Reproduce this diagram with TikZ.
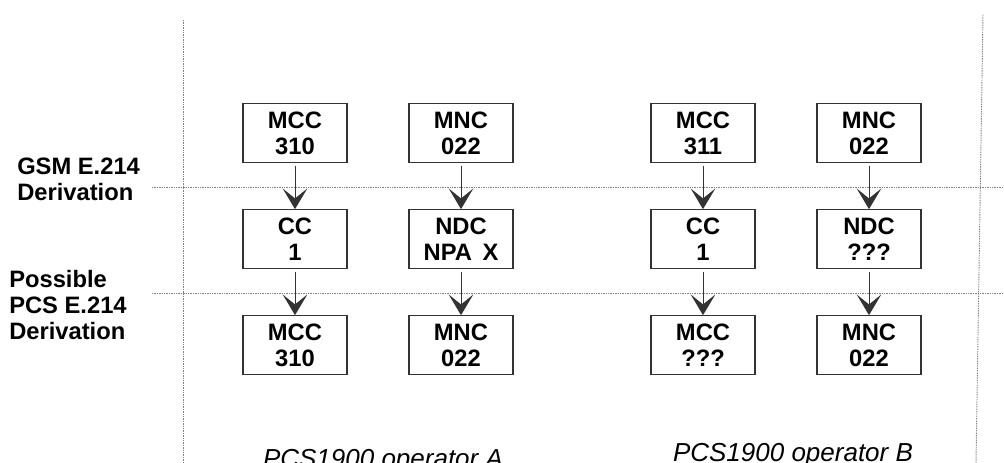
\documentclass[tikz,border=0pt]{standalone}
\usepackage{fontspec}
\setmainfont{Liberation Sans}
\usetikzlibrary{arrows.meta}

\begin{document}
\begin{tikzpicture}[x=0.75pt,y=-0.75pt,
  idbox/.style={draw=black!80,line width=0.8pt,minimum width=78pt,minimum height=44pt,inner sep=0pt,align=center,font=\fontsize{17.8}{19.5}\selectfont\bfseries},
  sep/.style={draw=black!50,line width=0.7pt,dash pattern=on 1pt off 0.8pt},
  derive/.style={draw=black!80,line width=0.7pt,shorten <=2pt,-{Stealth[length=15.5pt,width=18.5pt,inset=7.5pt]}},
  rowlbl/.style={anchor=north west,inner sep=0pt,align=left,font=\fontsize{17.8}{19.5}\selectfont\bfseries},
  oplbl/.style={anchor=base,inner sep=0pt,font=\fontsize{19.5}{23}\selectfont\itshape}]
\useasboundingbox (0,0) rectangle (1004,463);

% dotted separators
\draw[sep] (183,20) -- (183,463);
\draw[sep] (983,15) -- (976,463);
\draw[sep] (152,187) -- (1004,187);
\draw[sep] (152,293) -- (1004,293);

% row labels
\node[rowlbl] (gsm) at (17,158) {GSM E.214\\Derivation};
\node[rowlbl] (pcs) at (9,270) {Possible\\PCS E.214\\Derivation};

% operator A
\node[idbox] (mccA) at (295,133) {MCC\\310};
\node[idbox] (mncA) at (461,133) {MNC\\022};
\node[idbox] (ccA) at (295,239) {CC\\1};
\node[idbox] (ndcA) at (461,239) {NDC\\NPA\ \,X};
\node[idbox] (mccAp) at (295,345) {MCC\\310};
\node[idbox] (mncAp) at (461,345) {MNC\\022};

% operator B
\node[idbox] (mccB) at (703,133) {MCC\\311};
\node[idbox] (mncB) at (869,133) {MNC\\022};
\node[idbox] (ccB) at (703,239) {CC\\1};
\node[idbox] (ndcB) at (869,239) {NDC\\???};
\node[idbox] (mccBp) at (703,345) {MCC\\???};
\node[idbox] (mncBp) at (869,345) {MNC\\022};

\draw[derive] (mccA) -- (ccA);
\draw[derive] (mncA) -- (ndcA);
\draw[derive] (ccA) -- (mccAp);
\draw[derive] (ndcA) -- (mncAp);
\draw[derive] (mccB) -- (ccB);
\draw[derive] (mncB) -- (ndcB);
\draw[derive] (ccB) -- (mccBp);
\draw[derive] (ndcB) -- (mncBp);

\node[oplbl] (opA) at (383,467) {PCS1900 operator A};
\node[oplbl] (opB) at (793,461) {PCS1900 operator B};
\end{tikzpicture}
\end{document}
